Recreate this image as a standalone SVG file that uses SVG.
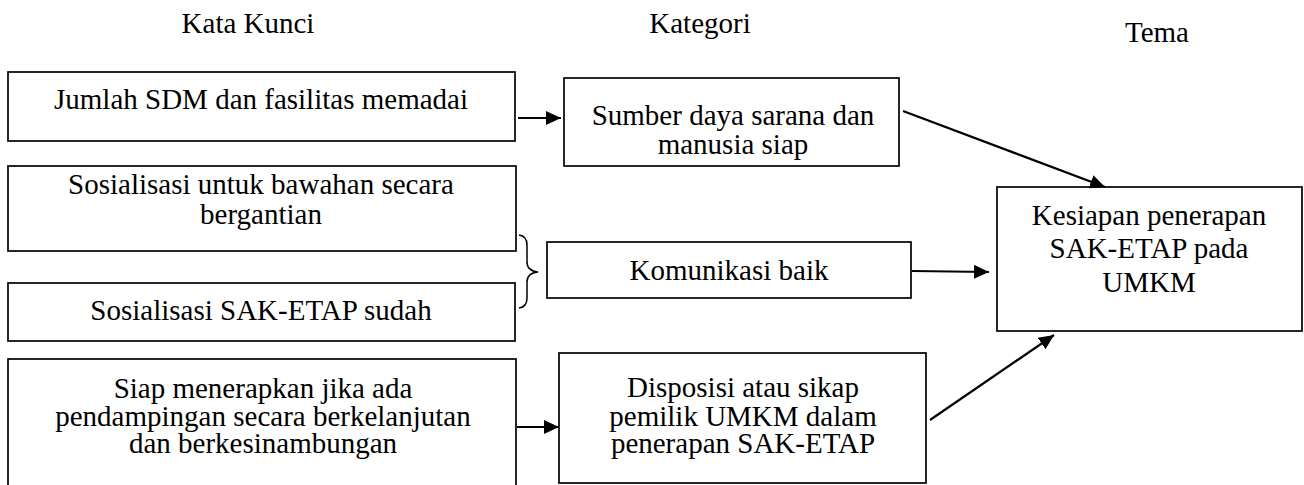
<svg xmlns="http://www.w3.org/2000/svg" width="1304" height="485" viewBox="0 0 1304 485">
<style>
.box{fill:#fff;stroke:#000;stroke-width:1.7}
.t{font-family:"Liberation Serif","Times New Roman",serif;font-size:29px;fill:#000;text-anchor:middle}
.c{fill:none;stroke:#000;stroke-width:2.2}
.br{fill:none;stroke:#000;stroke-width:1.5}
</style>
<defs>
<marker id="ah" markerUnits="userSpaceOnUse" markerWidth="16" markerHeight="14" refX="15" refY="7" orient="auto">
<path d="M0,0 L15,7 L0,14 z" fill="#000"/>
</marker>
</defs>
<rect width="1304" height="485" fill="#fff"/>
<g id="headers">
<text class="t" x="248" y="33">Kata Kunci</text>
<text class="t" x="700" y="33">Kategori</text>
<text class="t" x="1157" y="42">Tema</text>
</g>
<g id="k1">
<rect class="box" x="8" y="72" width="507" height="69"/>
<text class="t" x="261" y="109">Jumlah SDM dan fasilitas memadai</text>
</g>
<g id="k2">
<rect class="box" x="8" y="166" width="508" height="85"/>
<text class="t" x="261" y="194">Sosialisasi untuk bawahan secara</text>
<text class="t" x="261" y="224">bergantian</text>
</g>
<g id="k3">
<rect class="box" x="8" y="283" width="507" height="58"/>
<text class="t" x="261" y="320">Sosialisasi SAK-ETAP sudah</text>
</g>
<g id="k4">
<rect class="box" x="8" y="359" width="508" height="140"/>
<text class="t" x="263" y="398">Siap menerapkan jika ada</text>
<text class="t" x="263" y="426">pendampingan secara berkelanjutan</text>
<text class="t" x="263" y="453">dan berkesinambungan</text>
</g>
<g id="c1">
<rect class="box" x="564" y="78" width="335" height="88"/>
<text class="t" x="733" y="125">Sumber daya sarana dan</text>
<text class="t" x="733" y="154">manusia siap</text>
</g>
<g id="c2">
<rect class="box" x="547" y="242" width="364" height="56"/>
<text class="t" x="729" y="280">Komunikasi baik</text>
</g>
<g id="c3">
<rect class="box" x="559" y="353" width="367" height="130"/>
<text class="t" x="743" y="397">Disposisi atau sikap</text>
<text class="t" x="743" y="426">pemilik UMKM dalam</text>
<text class="t" x="743" y="453">penerapan SAK-ETAP</text>
</g>
<g id="tema">
<rect class="box" x="997" y="187" width="305" height="144"/>
<text class="t" x="1149" y="225">Kesiapan penerapan</text>
<text class="t" x="1149" y="258">SAK-ETAP pada</text>
<text class="t" x="1149" y="292">UMKM</text>
</g>
<g id="connectors">
<line class="c" x1="518" y1="118" x2="561" y2="118" marker-end="url(#ah)"/>
<line class="c" x1="903" y1="111" x2="1105" y2="187" marker-end="url(#ah)"/>
<line class="c" x1="912" y1="271" x2="989" y2="272" marker-end="url(#ah)"/>
<line class="c" x1="930" y1="420" x2="1054" y2="335" marker-end="url(#ah)"/>
<line class="c" x1="517" y1="427" x2="559" y2="427" marker-end="url(#ah)"/>
<path class="br" d="M519,235 Q527,236 527,245 L527,262 Q527,271 538,272 Q527,273 527,282 L527,298 Q527,307 519,308"/>
</g>
</svg>
